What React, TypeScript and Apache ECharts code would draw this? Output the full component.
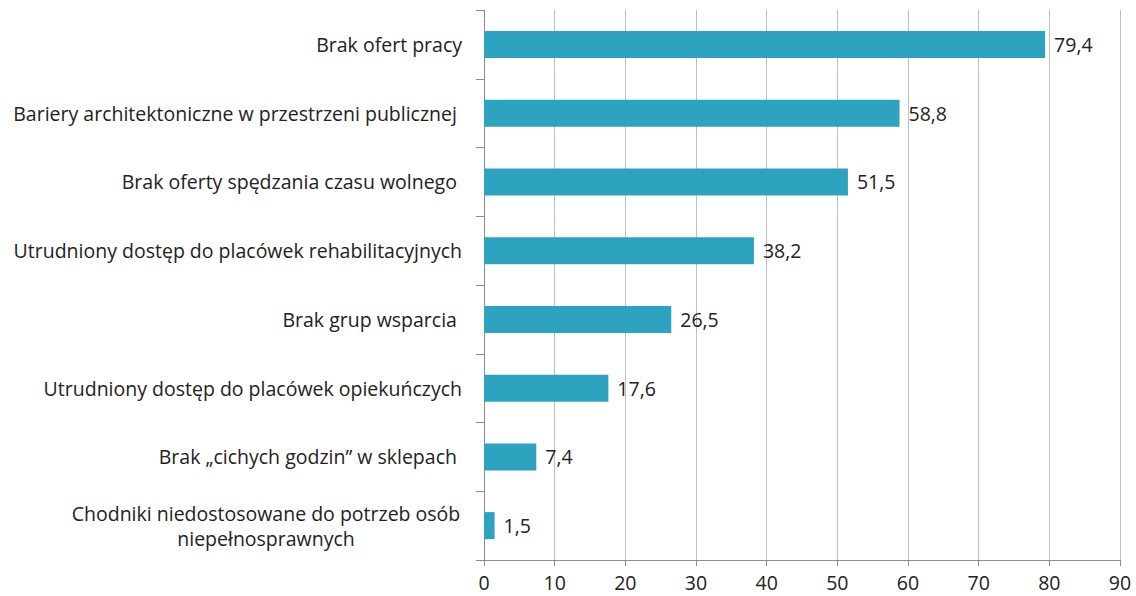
import React, { useEffect, useRef } from "react";
import * as echarts from "echarts";

const categories = [
  "Brak ofert pracy",
  "Bariery architektoniczne w przestrzeni publicznej ",
  "Brak oferty spędzania czasu wolnego ",
  "Utrudniony dostęp do placówek rehabilitacyjnych",
  "Brak grup wsparcia ",
  "Utrudniony dostęp do placówek opiekuńczych",
  "Brak „cichych godzin” w sklepach ",
  "Chodniki niedostosowane do potrzeb osób\nniepełnosprawnych",
];
const values = [79.4, 58.8, 51.5, 38.2, 26.5, 17.6, 7.4, 1.5];
const xTicks = [0, 10, 20, 30, 40, 50, 60, 70, 80, 90];

const FONT = "Open Sans";
const FS = 19.5;

export default function App() {
  const ref = useRef<HTMLDivElement>(null);
  useEffect(() => {
    if (!ref.current) return;
    const chart = echarts.init(ref.current, null, { renderer: "svg" });
    chart.setOption({
      animation: false,
      grid: { left: 484, right: 16, top: 10, bottom: 36, containLabel: false },
      xAxis: {
        type: "value",
        min: xTicks[0],
        max: xTicks[xTicks.length - 1],
        interval: 10,
        axisLine: { show: true, lineStyle: { color: "#8c8c8c", width: 1 } },
        axisTick: { show: true, length: 6, lineStyle: { color: "#8c8c8c" } },
        splitLine: { show: true, lineStyle: { color: "#bfbfbf", width: 1 } },
        axisLabel: {
          color: "#222",
          fontSize: FS,
          fontFamily: FONT,
          margin: 12,
        },
      },
      yAxis: {
        type: "category",
        data: categories,
        inverse: true,
        axisLine: { show: true, lineStyle: { color: "#8c8c8c", width: 1 } },
        axisTick: { show: true, length: 8, alignWithLabel: false, lineStyle: { color: "#8c8c8c" } },
        axisLabel: {
          color: "#222",
          fontSize: FS,
          fontFamily: FONT,
          margin: 22,
          lineHeight: 25,
          formatter: (v: string) => {
            if (v.includes("\n")) {
              return v
                .split("\n")
                .map((l) => "{c|" + l + "}")
                .join("\n");
            }
            return v;
          },
          rich: {
            c: {
              width: 392,
              align: "center",
              fontSize: FS,
              fontFamily: FONT,
              color: "#222",
              lineHeight: 25,
            },
          },
        },
      },
      series: [
        {
          type: "bar",
          data: values,
          barWidth: 27,
          itemStyle: { color: "#2ea3bf" },
          label: {
            show: true,
            position: "right",
            distance: 9,
            color: "#222",
            fontSize: FS,
            fontFamily: FONT,
            formatter: (p: any) => String(p.value).replace(".", ","),
          },
        },
      ],
    });
    return () => chart.dispose();
  }, []);
  return <div ref={ref} style={{ width: 1136, height: 596, position: "absolute", left: 0, top: 0 }} />;
}
